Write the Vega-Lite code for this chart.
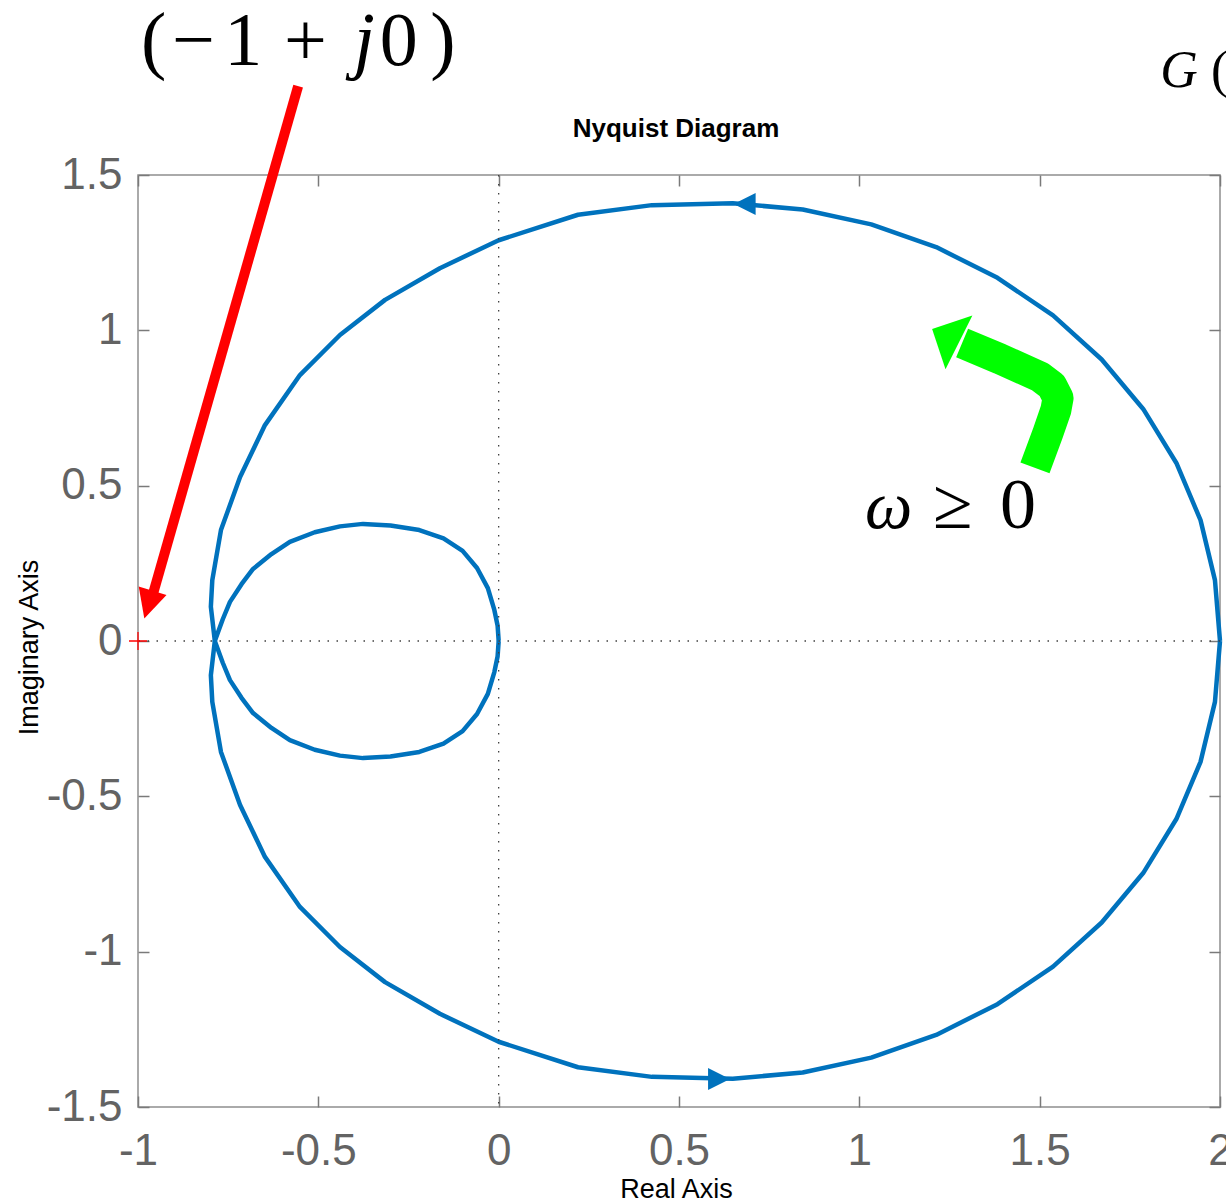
{
  "$schema": "https://vega.github.io/schema/vega-lite/v6.json",
  "width": 1082,
  "height": 932,
  "autosize": {"type": "none"},
  "padding": {"left": 138, "top": 175, "right": 6, "bottom": 94},
  "background": "white",
  "config": {"view": {"stroke": "#8f8f8f", "strokeWidth": 1.5}, "font": "Liberation Sans"},
  "datasets": {
    "curve": [
      {"branch": "pos", "i": 0, "x": 2.0, "y": 0},
      {"branch": "pos", "i": 1, "x": 1.986, "y": 0.196},
      {"branch": "pos", "i": 2, "x": 1.946, "y": 0.389},
      {"branch": "pos", "i": 3, "x": 1.879, "y": 0.573},
      {"branch": "pos", "i": 4, "x": 1.787, "y": 0.747},
      {"branch": "pos", "i": 5, "x": 1.672, "y": 0.906},
      {"branch": "pos", "i": 6, "x": 1.537, "y": 1.048},
      {"branch": "pos", "i": 7, "x": 1.383, "y": 1.169},
      {"branch": "pos", "i": 8, "x": 1.213, "y": 1.268},
      {"branch": "pos", "i": 9, "x": 1.033, "y": 1.341},
      {"branch": "pos", "i": 10, "x": 0.843, "y": 1.389},
      {"branch": "pos", "i": 11, "x": 0.649, "y": 1.409},
      {"branch": "pos", "i": 12, "x": 0.425, "y": 1.403},
      {"branch": "pos", "i": 13, "x": 0.22, "y": 1.372},
      {"branch": "pos", "i": 14, "x": 0.0, "y": 1.29},
      {"branch": "pos", "i": 15, "x": -0.163, "y": 1.2},
      {"branch": "pos", "i": 16, "x": -0.315, "y": 1.098},
      {"branch": "pos", "i": 17, "x": -0.44, "y": 0.985},
      {"branch": "pos", "i": 18, "x": -0.551, "y": 0.856},
      {"branch": "pos", "i": 19, "x": -0.648, "y": 0.695},
      {"branch": "pos", "i": 20, "x": -0.717, "y": 0.528},
      {"branch": "pos", "i": 21, "x": -0.77, "y": 0.357},
      {"branch": "pos", "i": 22, "x": -0.794, "y": 0.196},
      {"branch": "pos", "i": 23, "x": -0.798, "y": 0.11},
      {"branch": "pos", "i": 24, "x": -0.787, "y": 0},
      {"branch": "pos", "i": 25, "x": -0.765, "y": -0.07},
      {"branch": "pos", "i": 26, "x": -0.745, "y": -0.126},
      {"branch": "pos", "i": 27, "x": -0.713, "y": -0.183},
      {"branch": "pos", "i": 28, "x": -0.681, "y": -0.232},
      {"branch": "pos", "i": 29, "x": -0.63, "y": -0.28},
      {"branch": "pos", "i": 30, "x": -0.579, "y": -0.319},
      {"branch": "pos", "i": 31, "x": -0.51, "y": -0.35},
      {"branch": "pos", "i": 32, "x": -0.44, "y": -0.369},
      {"branch": "pos", "i": 33, "x": -0.376, "y": -0.377},
      {"branch": "pos", "i": 34, "x": -0.3, "y": -0.372},
      {"branch": "pos", "i": 35, "x": -0.22, "y": -0.357},
      {"branch": "pos", "i": 36, "x": -0.153, "y": -0.33},
      {"branch": "pos", "i": 37, "x": -0.1, "y": -0.29},
      {"branch": "pos", "i": 38, "x": -0.06, "y": -0.235},
      {"branch": "pos", "i": 39, "x": -0.03, "y": -0.17},
      {"branch": "pos", "i": 40, "x": -0.012, "y": -0.1},
      {"branch": "pos", "i": 41, "x": -0.003, "y": -0.05},
      {"branch": "pos", "i": 42, "x": 0.0, "y": 0},
      {"branch": "neg", "i": 0, "x": 2.0, "y": 0},
      {"branch": "neg", "i": 1, "x": 1.986, "y": -0.196},
      {"branch": "neg", "i": 2, "x": 1.946, "y": -0.389},
      {"branch": "neg", "i": 3, "x": 1.879, "y": -0.573},
      {"branch": "neg", "i": 4, "x": 1.787, "y": -0.747},
      {"branch": "neg", "i": 5, "x": 1.672, "y": -0.906},
      {"branch": "neg", "i": 6, "x": 1.537, "y": -1.048},
      {"branch": "neg", "i": 7, "x": 1.383, "y": -1.169},
      {"branch": "neg", "i": 8, "x": 1.213, "y": -1.268},
      {"branch": "neg", "i": 9, "x": 1.033, "y": -1.341},
      {"branch": "neg", "i": 10, "x": 0.843, "y": -1.389},
      {"branch": "neg", "i": 11, "x": 0.649, "y": -1.409},
      {"branch": "neg", "i": 12, "x": 0.425, "y": -1.403},
      {"branch": "neg", "i": 13, "x": 0.22, "y": -1.372},
      {"branch": "neg", "i": 14, "x": 0.0, "y": -1.29},
      {"branch": "neg", "i": 15, "x": -0.163, "y": -1.2},
      {"branch": "neg", "i": 16, "x": -0.315, "y": -1.098},
      {"branch": "neg", "i": 17, "x": -0.44, "y": -0.985},
      {"branch": "neg", "i": 18, "x": -0.551, "y": -0.856},
      {"branch": "neg", "i": 19, "x": -0.648, "y": -0.695},
      {"branch": "neg", "i": 20, "x": -0.717, "y": -0.528},
      {"branch": "neg", "i": 21, "x": -0.77, "y": -0.357},
      {"branch": "neg", "i": 22, "x": -0.794, "y": -0.196},
      {"branch": "neg", "i": 23, "x": -0.798, "y": -0.11},
      {"branch": "neg", "i": 24, "x": -0.787, "y": 0},
      {"branch": "neg", "i": 25, "x": -0.765, "y": 0.07},
      {"branch": "neg", "i": 26, "x": -0.745, "y": 0.126},
      {"branch": "neg", "i": 27, "x": -0.713, "y": 0.183},
      {"branch": "neg", "i": 28, "x": -0.681, "y": 0.232},
      {"branch": "neg", "i": 29, "x": -0.63, "y": 0.28},
      {"branch": "neg", "i": 30, "x": -0.579, "y": 0.319},
      {"branch": "neg", "i": 31, "x": -0.51, "y": 0.35},
      {"branch": "neg", "i": 32, "x": -0.44, "y": 0.369},
      {"branch": "neg", "i": 33, "x": -0.376, "y": 0.377},
      {"branch": "neg", "i": 34, "x": -0.3, "y": 0.372},
      {"branch": "neg", "i": 35, "x": -0.22, "y": 0.357},
      {"branch": "neg", "i": 36, "x": -0.153, "y": 0.33},
      {"branch": "neg", "i": 37, "x": -0.1, "y": 0.29},
      {"branch": "neg", "i": 38, "x": -0.06, "y": 0.235},
      {"branch": "neg", "i": 39, "x": -0.03, "y": 0.17},
      {"branch": "neg", "i": 40, "x": -0.012, "y": 0.1},
      {"branch": "neg", "i": 41, "x": -0.003, "y": 0.05},
      {"branch": "neg", "i": 42, "x": 0.0, "y": 0}
    ],
    "zero": [{"x": 0, "y": 0}],
    "critical": [{"x": -1, "y": 0}],
    "arrow_left": [{"x": 0.682, "y": 1.407}],
    "arrow_right": [{"x": 0.611, "y": -1.41}],
    "red_line": [{"i": 0, "x": -0.556, "y": 1.786}, {"i": 1, "x": -0.96, "y": 0.145}],
    "red_head": [{"x": -0.971, "y": 0.117}],
    "green_line": [
      {"i": 0, "x": 1.487, "y": 0.557},
      {"i": 1, "x": 1.523, "y": 0.67},
      {"i": 2, "x": 1.545, "y": 0.744},
      {"i": 3, "x": 1.551, "y": 0.782},
      {"i": 4, "x": 1.534, "y": 0.821},
      {"i": 5, "x": 1.501, "y": 0.85},
      {"i": 6, "x": 1.39, "y": 0.908},
      {"i": 7, "x": 1.285, "y": 0.959}
    ],
    "green_head": [{"x": 1.239, "y": 0.983}],
    "plot_title": [{"x": 0.4917, "y": 1.622, "t": "Nyquist Diagram"}],
    "tex_upright": [
      {"x": -0.9917, "y": 1.854, "t": "("},
      {"x": -0.9057, "y": 1.854, "t": "−"},
      {"x": -0.761, "y": 1.854, "t": "1"},
      {"x": -0.595, "y": 1.854, "t": "+"},
      {"x": -0.33, "y": 1.854, "t": "0"},
      {"x": -0.19, "y": 1.854, "t": ")"}
    ],
    "tex_italic": [
      {"x": -0.402, "y": 1.854, "t": "j"}
    ],
    "g_upright": [{"x": 1.975, "y": 1.783, "t": "("}],
    "g_italic": [{"x": 1.834, "y": 1.783, "t": "G"}],
    "w_upright": [
      {"x": 1.204, "y": 0.364, "t": "≥"},
      {"x": 1.39, "y": 0.364, "t": "0"}
    ],
    "w_italic": [{"x": 1.016, "y": 0.364, "t": "ω"}]
  },
  "layer": [
    {
      "data": {"name": "curve"},
      "mark": {"type": "line", "color": "#0072BD", "strokeWidth": 4.5, "strokeJoin": "round"},
      "encoding": {
        "x": {"field": "x", "type": "quantitative", "scale": {"domain": [-1, 2], "nice": false, "zero": false},
          "axis": {"orient": "bottom", "values": [-1, -0.5, 0, 0.5, 1, 1.5, 2],
            "labelExpr": "(datum.value < 0 ? '-' : '') + format(abs(datum.value), '~g')",
            "labelFontSize": 44, "labelColor": "#636363", "labelFont": "Liberation Sans",
            "tickSize": -11, "tickColor": "#7a7a7a", "tickWidth": 1.5, "labelPadding": 33,
            "domain": false, "grid": false, "labelFlush": false, "labelOverlap": false,
            "title": "Real Axis", "titleFontSize": 27, "titleFontWeight": "normal", "titleColor": "#000000", "titleFont": "Liberation Sans",
            "titleX": 538, "titleY": 90, "titleBaseline": "alphabetic"}},
        "y": {"field": "y", "type": "quantitative", "scale": {"domain": [-1.5, 1.5], "nice": false, "zero": false},
          "axis": {"orient": "left", "values": [-1.5, -1, -0.5, 0, 0.5, 1, 1.5],
            "labelExpr": "(datum.value < 0 ? '-' : '') + format(abs(datum.value), '~g')",
            "labelFontSize": 44, "labelColor": "#636363", "labelFont": "Liberation Sans",
            "tickSize": -11, "tickColor": "#7a7a7a", "tickWidth": 1.5, "labelPadding": 27,
            "domain": false, "grid": false, "labelFlush": false, "labelOverlap": false,
            "title": "Imaginary Axis", "titleFontSize": 27, "titleFontWeight": "normal", "titleColor": "#000000", "titleFont": "Liberation Sans",
            "titleX": -101, "titleY": 472, "titleBaseline": "alphabetic", "titleAngle": -90}},
        "order": {"field": "i", "type": "quantitative"},
        "detail": {"field": "branch"}
      }
    },
    {
      "data": {"name": "zero"},
      "mark": {"type": "rule", "color": "#404040", "strokeWidth": 1.3, "strokeDash": [1.5, 7.5]},
      "encoding": {
        "x": {"field": "x", "type": "quantitative", "scale": {"domain": [-1, 2], "nice": false, "zero": false},
          "axis": {"orient": "top", "values": [-1, -0.5, 0, 0.5, 1, 1.5, 2], "labels": false, "tickSize": -11, "tickColor": "#7a7a7a", "tickWidth": 1.5, "domain": false, "grid": false, "title": null, "minExtent": 0, "maxExtent": 0}}
      }
    },
    {
      "data": {"name": "zero"},
      "mark": {"type": "rule", "color": "#404040", "strokeWidth": 1.3, "strokeDash": [1.5, 7.5]},
      "encoding": {
        "y": {"field": "y", "type": "quantitative", "scale": {"domain": [-1.5, 1.5], "nice": false, "zero": false},
          "axis": {"orient": "right", "values": [-1.5, -1, -0.5, 0, 0.5, 1, 1.5], "labels": false, "tickSize": -11, "tickColor": "#7a7a7a", "tickWidth": 1.5, "domain": false, "grid": false, "title": null, "minExtent": 0, "maxExtent": 0}}
      }
    },
    {
      "data": {"name": "critical"},
      "mark": {"type": "point", "shape": "M-1,0H1M0,-1V1", "size": 324, "stroke": "#ff0000", "strokeWidth": 1.3, "filled": false, "opacity": 1},
      "encoding": {
        "x": {"field": "x", "type": "quantitative", "scale": {"domain": [-1, 2], "nice": false, "zero": false}, "axis": null},
        "y": {"field": "y", "type": "quantitative", "scale": {"domain": [-1.5, 1.5], "nice": false, "zero": false}, "axis": null}
      }
    },
    {
      "data": {"name": "arrow_left"},
      "mark": {"type": "point", "shape": "M-1,0L1,-1L1,1Z", "size": 484, "filled": true, "color": "#0072BD", "opacity": 1, "strokeWidth": 0},
      "encoding": {
        "x": {"field": "x", "type": "quantitative", "scale": {"domain": [-1, 2], "nice": false, "zero": false}, "axis": null},
        "y": {"field": "y", "type": "quantitative", "scale": {"domain": [-1.5, 1.5], "nice": false, "zero": false}, "axis": null}
      }
    },
    {
      "data": {"name": "arrow_right"},
      "mark": {"type": "point", "shape": "M1,0L-1,-1L-1,1Z", "size": 484, "filled": true, "color": "#0072BD", "opacity": 1, "strokeWidth": 0},
      "encoding": {
        "x": {"field": "x", "type": "quantitative", "scale": {"domain": [-1, 2], "nice": false, "zero": false}, "axis": null},
        "y": {"field": "y", "type": "quantitative", "scale": {"domain": [-1.5, 1.5], "nice": false, "zero": false}, "axis": null}
      }
    },
    {
      "data": {"name": "red_line"},
      "mark": {"type": "line", "color": "#ff0000", "strokeWidth": 10, "strokeCap": "butt"},
      "encoding": {
        "x": {"field": "x", "type": "quantitative", "scale": {"domain": [-1, 2], "nice": false, "zero": false}, "axis": null},
        "y": {"field": "y", "type": "quantitative", "scale": {"domain": [-1.5, 1.5], "nice": false, "zero": false}, "axis": null},
        "order": {"field": "i", "type": "quantitative"}
      }
    },
    {
      "data": {"name": "red_head"},
      "mark": {"type": "point", "shape": "M0,1L-1,-1L1,-1Z", "size": 841, "angle": 16.6, "filled": true, "color": "#ff0000", "opacity": 1, "strokeWidth": 0},
      "encoding": {
        "x": {"field": "x", "type": "quantitative", "scale": {"domain": [-1, 2], "nice": false, "zero": false}, "axis": null},
        "y": {"field": "y", "type": "quantitative", "scale": {"domain": [-1.5, 1.5], "nice": false, "zero": false}, "axis": null}
      }
    },
    {
      "data": {"name": "green_line"},
      "mark": {"type": "line", "color": "#00ff00", "strokeWidth": 31, "strokeCap": "butt", "strokeJoin": "round"},
      "encoding": {
        "x": {"field": "x", "type": "quantitative", "scale": {"domain": [-1, 2], "nice": false, "zero": false}, "axis": null},
        "y": {"field": "y", "type": "quantitative", "scale": {"domain": [-1.5, 1.5], "nice": false, "zero": false}, "axis": null},
        "order": {"field": "i", "type": "quantitative"}
      }
    },
    {
      "data": {"name": "green_head"},
      "mark": {"type": "point", "shape": "M-1,0L1,-2L1,2Z", "size": 900, "angle": 26.6, "filled": true, "color": "#00ff00", "opacity": 1, "strokeWidth": 0},
      "encoding": {
        "x": {"field": "x", "type": "quantitative", "scale": {"domain": [-1, 2], "nice": false, "zero": false}, "axis": null},
        "y": {"field": "y", "type": "quantitative", "scale": {"domain": [-1.5, 1.5], "nice": false, "zero": false}, "axis": null}
      }
    },
    {
      "data": {"name": "plot_title"},
      "mark": {"type": "text", "font": "Liberation Sans", "fontSize": 26, "fontWeight": "bold", "align": "center", "baseline": "alphabetic", "color": "#000000"},
      "encoding": {
        "x": {"field": "x", "type": "quantitative", "scale": {"domain": [-1, 2], "nice": false, "zero": false}, "axis": null},
        "y": {"field": "y", "type": "quantitative", "scale": {"domain": [-1.5, 1.5], "nice": false, "zero": false}, "axis": null},
        "text": {"field": "t"}
      }
    },
    {
      "data": {"name": "tex_upright"},
      "mark": {"type": "text", "font": "Liberation Serif", "fontSize": 76, "align": "left", "baseline": "alphabetic", "color": "#000000"},
      "encoding": {
        "x": {"field": "x", "type": "quantitative", "scale": {"domain": [-1, 2], "nice": false, "zero": false}, "axis": null},
        "y": {"field": "y", "type": "quantitative", "scale": {"domain": [-1.5, 1.5], "nice": false, "zero": false}, "axis": null},
        "text": {"field": "t"}
      }
    },
    {
      "data": {"name": "tex_italic"},
      "mark": {"type": "text", "font": "Liberation Serif", "fontSize": 76, "fontStyle": "italic", "align": "left", "baseline": "alphabetic", "color": "#000000"},
      "encoding": {
        "x": {"field": "x", "type": "quantitative", "scale": {"domain": [-1, 2], "nice": false, "zero": false}, "axis": null},
        "y": {"field": "y", "type": "quantitative", "scale": {"domain": [-1.5, 1.5], "nice": false, "zero": false}, "axis": null},
        "text": {"field": "t"}
      }
    },
    {
      "data": {"name": "g_upright"},
      "mark": {"type": "text", "font": "Liberation Serif", "fontSize": 52, "align": "left", "baseline": "alphabetic", "color": "#000000"},
      "encoding": {
        "x": {"field": "x", "type": "quantitative", "scale": {"domain": [-1, 2], "nice": false, "zero": false}, "axis": null},
        "y": {"field": "y", "type": "quantitative", "scale": {"domain": [-1.5, 1.5], "nice": false, "zero": false}, "axis": null},
        "text": {"field": "t"}
      }
    },
    {
      "data": {"name": "g_italic"},
      "mark": {"type": "text", "font": "Liberation Serif", "fontSize": 52, "fontStyle": "italic", "align": "left", "baseline": "alphabetic", "color": "#000000"},
      "encoding": {
        "x": {"field": "x", "type": "quantitative", "scale": {"domain": [-1, 2], "nice": false, "zero": false}, "axis": null},
        "y": {"field": "y", "type": "quantitative", "scale": {"domain": [-1.5, 1.5], "nice": false, "zero": false}, "axis": null},
        "text": {"field": "t"}
      }
    },
    {
      "data": {"name": "w_upright"},
      "mark": {"type": "text", "font": "Liberation Serif", "fontSize": 72, "align": "left", "baseline": "alphabetic", "color": "#000000"},
      "encoding": {
        "x": {"field": "x", "type": "quantitative", "scale": {"domain": [-1, 2], "nice": false, "zero": false}, "axis": null},
        "y": {"field": "y", "type": "quantitative", "scale": {"domain": [-1.5, 1.5], "nice": false, "zero": false}, "axis": null},
        "text": {"field": "t"}
      }
    },
    {
      "data": {"name": "w_italic"},
      "mark": {"type": "text", "font": "Liberation Serif", "fontSize": 67, "fontStyle": "italic", "align": "left", "baseline": "alphabetic", "color": "#000000"},
      "encoding": {
        "x": {"field": "x", "type": "quantitative", "scale": {"domain": [-1, 2], "nice": false, "zero": false}, "axis": null},
        "y": {"field": "y", "type": "quantitative", "scale": {"domain": [-1.5, 1.5], "nice": false, "zero": false}, "axis": null},
        "text": {"field": "t"}
      }
    }
  ],
  "resolve": {"axis": {"x": "independent", "y": "independent"}}
}
